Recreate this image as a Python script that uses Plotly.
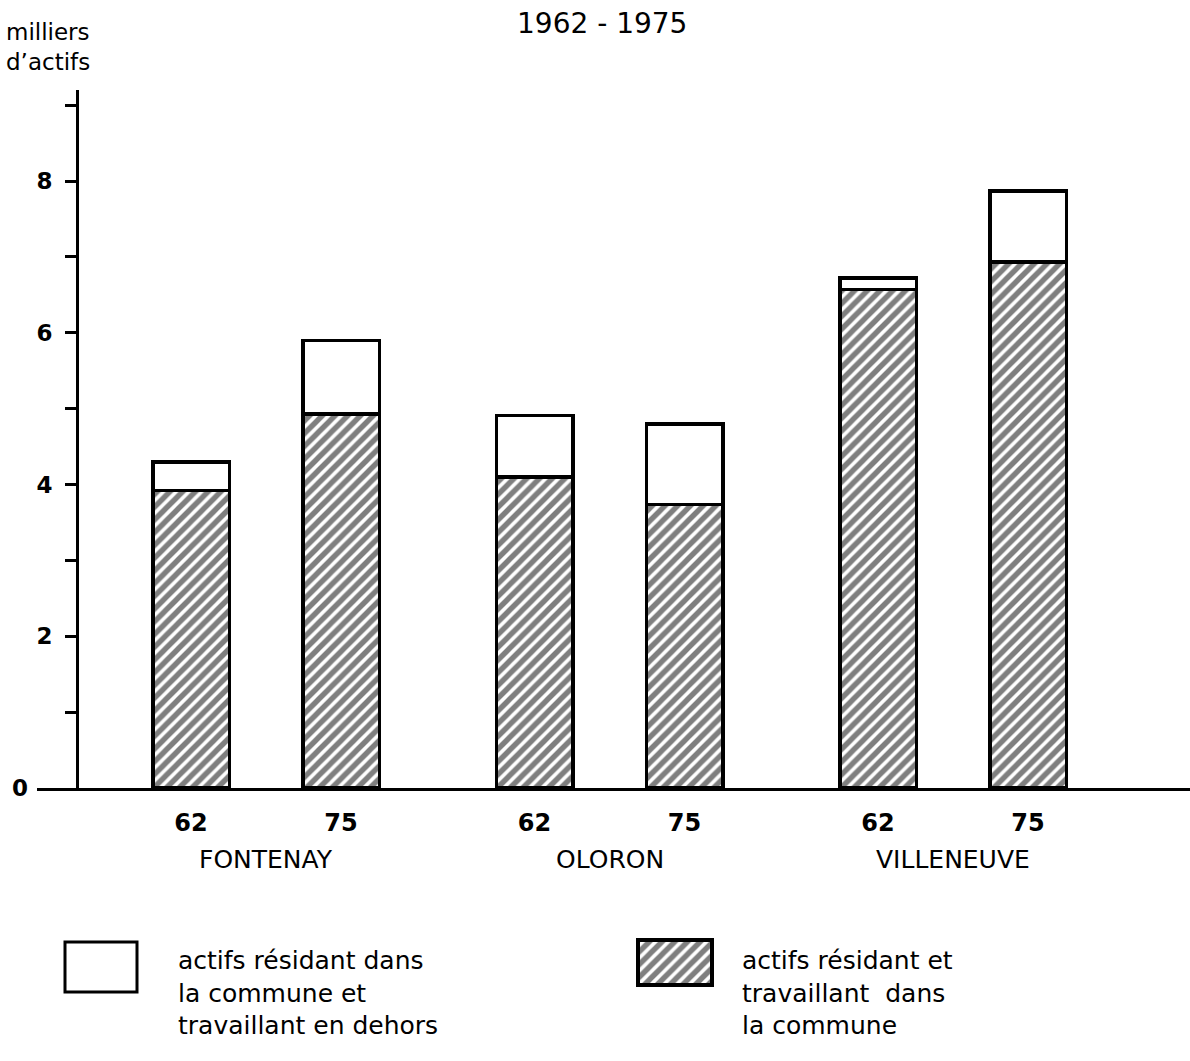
import plotly.graph_objects as go

# Active residents (thousands), per commune and census year
communes = ["FONTENAY", "OLORON", "VILLENEUVE"]
annees = ["62", "75"]
travaillant_dans_commune = [3.92, 4.93, 4.10, 3.74, 6.57, 6.93]   # hatched part
travaillant_dehors = [0.38, 0.97, 0.81, 1.06, 0.15, 0.94]          # white part on top
yticks = [2, 4, 6, 8]
yticks_minor = [1, 3, 5, 7, 9]

W, H = 1190, 1061
FONT = "DejaVu Sans"


def px(x):
    return x / W


def py(y):
    return 1 - y / H


GROUP_STEP = 2.29
BAR_W = 0.51
pos = [g * GROUP_STEP + k for g in range(len(communes)) for k in range(len(annees))]
labels = [a for _ in communes for a in annees]

hatch = dict(shape="/", fgcolor="black", bgcolor="white", size=9, solidity=0.6)
outline = dict(color="black", width=3.5)

fig = go.Figure()
fig.add_bar(x=pos, y=travaillant_dans_commune, width=BAR_W,
            marker=dict(color="white", line=outline, pattern=hatch),
            xaxis="x", yaxis="y")
fig.add_bar(x=pos, y=travaillant_dehors, width=BAR_W,
            marker=dict(color="white", line=outline),
            xaxis="x", yaxis="y")

# legend swatch (hatched) on a pixel-scaled overlay axis
fig.add_bar(x=[675], y=[45], base=[940], width=[74],
            marker=dict(color="white", line=outline, pattern=hatch),
            xaxis="x2", yaxis="y2")

fig.update_layout(
    width=W, height=H,
    margin=dict(l=0, r=0, t=0, b=0),
    paper_bgcolor="white", plot_bgcolor="rgba(0,0,0,0)",
    barmode="stack", showlegend=False,
    font=dict(family=FONT, color="black", size=22),
    xaxis=dict(domain=[px(37), 1], range=[(37 - 191) / 150, (1190 - 191) / 150],
               showline=True, linewidth=3, linecolor="black",
               tickvals=pos, ticktext=labels, ticks="", ticklabelstandoff=11,
               tickfont=dict(size=24, family=FONT, weight="bold"),
               showgrid=False, zeroline=False, anchor="y"),
    yaxis=dict(domain=[py(788), py(90)], range=[0, 9.2],
               anchor="free", position=px(77),
               showline=True, linewidth=3, linecolor="black",
               tickvals=yticks, ticks="outside", ticklen=11, tickwidth=3,
               tickcolor="black", ticklabelstandoff=8,
               tickfont=dict(size=23, family=FONT, weight="bold"),
               minor=dict(tickvals=yticks_minor, ticks="outside", ticklen=11,
                          tickwidth=3, tickcolor="black"),
               showgrid=False, zeroline=False),
    xaxis2=dict(domain=[0, 1], range=[0, W], visible=False, anchor="y2"),
    yaxis2=dict(domain=[0, 1], range=[H, 0], visible=False, anchor="x2"),
)

# white legend swatch
fig.add_shape(type="rect", xref="paper", yref="paper",
              x0=px(65), x1=px(137), y0=py(942), y1=py(992),
              line=dict(color="black", width=3), fillcolor="white")

ann = []
ann.append(dict(text="1962 - 1975", x=px(602), y=py(24), xref="paper", yref="paper",
                xanchor="center", yanchor="middle", showarrow=False,
                font=dict(size=28)))
ann.append(dict(text="milliers<br>d’actifs", x=px(4), y=py(17), xref="paper", yref="paper",
                xanchor="left", yanchor="top", align="left", showarrow=False,
                font=dict(size=23)))
ann.append(dict(text="0", x=px(20), y=py(788), xref="paper", yref="paper",
                xanchor="center", yanchor="middle", showarrow=False,
                font=dict(size=23, weight="bold")))
for g, c in enumerate(communes):
    ann.append(dict(text=c, x=g * GROUP_STEP + 0.5, y=py(859), xref="x", yref="paper",
                    xanchor="center", yanchor="middle", showarrow=False,
                    font=dict(size=25)))
ann.append(dict(text="actifs résidant dans<br>la commune et<br>travaillant en dehors",
                x=px(176), y=py(944), xref="paper", yref="paper",
                xanchor="left", yanchor="top", align="left", showarrow=False,
                font=dict(size=25)))
ann.append(dict(text="actifs résidant et<br>travaillant  dans<br>la commune",
                x=px(740), y=py(944), xref="paper", yref="paper",
                xanchor="left", yanchor="top", align="left", showarrow=False,
                font=dict(size=25)))
fig.update_layout(annotations=ann)

fig.write_html("out.html")
